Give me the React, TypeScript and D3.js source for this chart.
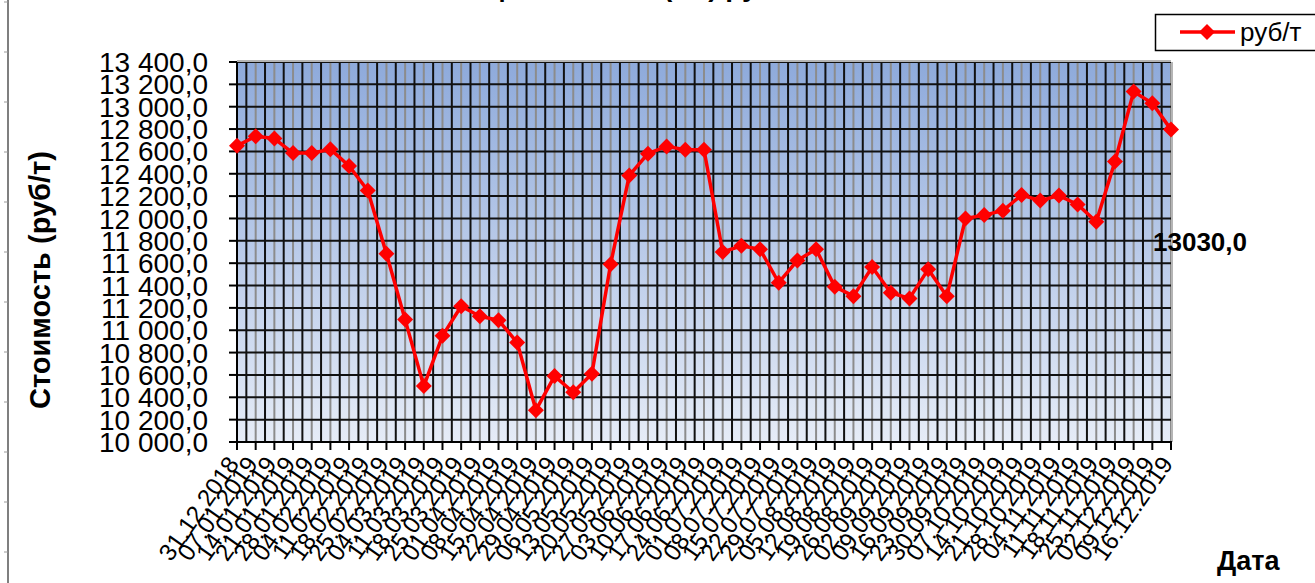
import React from "react";
import * as d3 from "d3";

// weekly price dates (category labels)
const dates = [
  "31.12.2018", "07.01.2019", "14.01.2019", "21.01.2019", "28.01.2019", "04.02.2019",
  "11.02.2019", "18.02.2019", "25.02.2019", "04.03.2019", "11.03.2019", "18.03.2019",
  "25.03.2019", "01.04.2019", "08.04.2019", "15.04.2019", "22.04.2019", "29.04.2019",
  "06.05.2019", "13.05.2019", "20.05.2019", "27.05.2019", "03.06.2019", "10.06.2019",
  "17.06.2019", "24.06.2019", "01.07.2019", "08.07.2019", "15.07.2019", "22.07.2019",
  "29.07.2019", "05.08.2019", "12.08.2019", "19.08.2019", "26.08.2019", "02.09.2019",
  "09.09.2019", "16.09.2019", "23.09.2019", "30.09.2019", "07.10.2019", "14.10.2019",
  "21.10.2019", "28.10.2019", "04.11.2019", "11.11.2019", "18.11.2019", "25.11.2019",
  "02.12.2019", "09.12.2019", "16.12.2019",
];

// руб/т
const prices = [
  12650, 12735, 12715, 12585, 12585, 12620, 12470, 12250, 11685, 11095,
  10500, 10950, 11215, 11125, 11090, 10890, 10285, 10590, 10445, 10610,
  11590, 12385, 12580, 12645, 12615, 12615, 11700, 11755, 11725, 11425,
  11625, 11725, 11390, 11305, 11565, 11335, 11285, 11545, 11305, 12000,
  12030, 12070, 12210, 12160, 12205, 12125, 11970, 12510, 13135, 13030,
  12795,
];

const yMin = 10000;
const yMax = 13400;
const yStep = 200;
const labelIndex = 49; // point whose value is shown as data label

const seriesName = "руб/т";
const yTitle = "Стоимость (руб/т)";
const xTitle = "Дата";
const chartTitle = "Цена на лом (3А) руб/т";

const W = 1315;
const H = 583;
const FONT = "'Liberation Sans', Arial, sans-serif";

const ru = d3.formatLocale({
  decimal: ",",
  thousands: " ",
  grouping: [3],
  currency: ["", ""],
});
const fmtTick = ru.format(",.1f");
const fmtLabel = ru.format(".1f");

const diamond = (cx: number, cy: number, r: number) =>
  `M${cx},${cy - r}L${cx + r},${cy}L${cx},${cy + r}L${cx - r},${cy}Z`;

export default function App() {
  const left = 237;
  const right = 1171;
  const top = 62;
  const bottom = 442;

  const x = d3.scalePoint<string>().domain(dates).range([left, right]);
  const y = d3.scaleLinear().domain([yMin, yMax]).range([bottom, top]);
  const yTicks = d3.range(yMin, yMax + 1, yStep);
  const step = x.step();

  const line = d3
    .line<number>()
    .x((_, i) => x(dates[i]) as number)
    .y((d) => y(d));

  return (
    <svg
      width={W}
      height={H}
      style={{ position: "absolute", left: 0, top: 0, background: "#fff" }}
      fontFamily={FONT}
    >
      <defs>
        <linearGradient id="plotBg" x1="0" y1="0" x2="0" y2="1">
          <stop offset="0%" stopColor="#8eaadb" />
          <stop offset="100%" stopColor="#e6ecf7" />
        </linearGradient>
        <clipPath id="plotClip">
          <rect x={left} y={top} width={right - left} height={bottom - top} />
        </clipPath>
      </defs>

      {/* sheet edge on the left */}
      <line x1={8} x2={8} y1={0} y2={H} stroke="#555" strokeWidth={1.5} />
      {d3.range(2, H, 50).map((v) => (
        <line key={v} x1={4} x2={8} y1={v} y2={v} stroke="#999" strokeWidth={1} />
      ))}

      {/* title, cut off at the top */}
      <text x={640} y={-4} textAnchor="middle" fontSize={28} fontWeight="bold">
        {chartTitle}
      </text>

      {/* plot area */}
      <rect x={left} y={top} width={right - left} height={bottom - top} fill="url(#plotBg)" />
      <g clipPath="url(#plotClip)">
        {/* gray lines at categories */}
        {dates.map((d) => (
          <line key={"g" + d} x1={x(d)} x2={x(d)} y1={top} y2={bottom} stroke="#8c8c8c" strokeWidth={2} />
        ))}
        {/* black lines between categories */}
        {dates.slice(1).map((d) => (
          <line
            key={"b" + d}
            x1={(x(d) as number) - step / 2}
            x2={(x(d) as number) - step / 2}
            y1={top}
            y2={bottom}
            stroke="#111"
            strokeWidth={2}
          />
        ))}
        {yTicks.map((t) => (
          <line key={"h" + t} x1={left} x2={right} y1={y(t)} y2={y(t)} stroke="#111" strokeWidth={2} />
        ))}
      </g>
      <line x1={left} x2={right} y1={top - 1} y2={top - 1} stroke="#b5b5b5" strokeWidth={2} />
      <line x1={right + 1} x2={right + 1} y1={top} y2={bottom} stroke="#b5b5b5" strokeWidth={2} />

      {/* y axis */}
      <line x1={left} x2={left} y1={top} y2={bottom + 1} stroke="#000" strokeWidth={2} />
      {yTicks.map((t) => (
        <g key={"yt" + t}>
          <line x1={left - 8} x2={left} y1={y(t)} y2={y(t)} stroke="#000" strokeWidth={2} />
          <text x={208} y={y(t)} dy="0.36em" textAnchor="end" fontSize={28} fill="#000">
            {fmtTick(t)}
          </text>
        </g>
      ))}

      {/* x axis */}
      <line x1={left - 1} x2={right + 1} y1={bottom} y2={bottom} stroke="#000" strokeWidth={2} />
      {dates.map((d) => (
        <g key={"xt" + d}>
          <line x1={x(d)} x2={x(d)} y1={bottom} y2={bottom + 8} stroke="#000" strokeWidth={2} />
          <text
            transform={`translate(${(x(d) as number) + 3},${bottom + 22}) rotate(-55)`}
            textAnchor="end"
            fontSize={24}
            fill="#000"
          >
            {d}
          </text>
        </g>
      ))}

      {/* series */}
      <path d={line(prices) || ""} fill="none" stroke="#ff0000" strokeWidth={3.5} strokeLinejoin="round" />
      {prices.map((v, i) => (
        <path key={"m" + i} d={diamond(x(dates[i]) as number, y(v), 8)} fill="#ff0000" />
      ))}

      {/* data label */}
      <text x={1153} y={251} fontSize={26} fontWeight="bold" fill="#000">
        {fmtLabel(prices[labelIndex])}
      </text>

      {/* axis titles */}
      <text
        transform={`translate(50,280) rotate(-90)`}
        textAnchor="middle"
        fontSize={29}
        fontWeight="bold"
      >
        {yTitle}
      </text>
      <text x={1217} y={570} fontSize={27} fontWeight="bold">
        {xTitle}
      </text>

      {/* legend */}
      <rect x={1155.5} y={14.5} width={170} height={36} fill="#fff" stroke="#000" strokeWidth={1.5} />
      <line x1={1180} x2={1235} y1={32} y2={32} stroke="#ff0000" strokeWidth={3.5} />
      <path d={diamond(1207, 32, 8)} fill="#ff0000" />
      <text x={1240} y={41} fontSize={26} fill="#000">
        {seriesName}
      </text>
    </svg>
  );
}
